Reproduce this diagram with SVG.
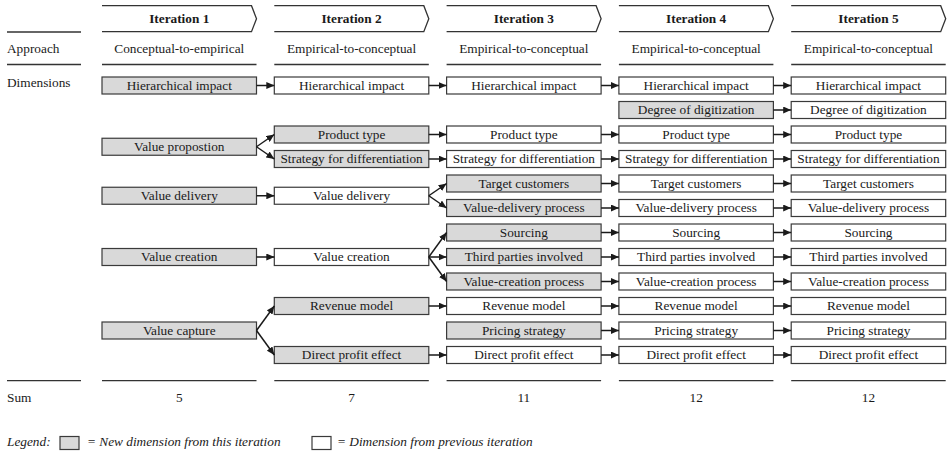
<svg xmlns="http://www.w3.org/2000/svg" width="947" height="453" viewBox="0 0 947 453">
<style>
.box{stroke:#3a3a3a;stroke-width:1.2}
.new{fill:#d9d9d9}
.old{fill:#ffffff}
.t{font-family:"Liberation Serif","Times New Roman",serif;font-size:13.3px;fill:#1a1a1a;text-anchor:middle}
.l{font-family:"Liberation Serif","Times New Roman",serif;font-size:13.3px;fill:#1a1a1a;text-anchor:start}
.it{font-style:italic}
.hd{font-weight:bold}
.rule{stroke:#333;stroke-width:1.3;fill:none}
.chev{stroke:#333;stroke-width:1.3;fill:#fff}
.conn{stroke:#1a1a1a;stroke-width:1.5;fill:none;marker-end:url(#ah)}
</style>
<defs>
<marker id="ah" markerUnits="userSpaceOnUse" markerWidth="8" markerHeight="7" refX="8" refY="3.5" orient="auto">
<path d="M0,0 L8,3.5 L0,7 z" fill="#1a1a1a"/>
</marker>
</defs>
<rect width="947" height="453" fill="#fff"/>

<g id="header">
<path class="chev" d="M102,5.7 H251.5 L256.5,18.7 L251.5,31.7 H102"/>
<path class="chev" d="M274.3,5.7 H423.8 L428.8,18.7 L423.8,31.7 H274.3"/>
<path class="chev" d="M446.6,5.7 H596.1 L601.1,18.7 L596.1,31.7 H446.6"/>
<path class="chev" d="M618.9,5.7 H768.4 L773.4,18.7 L768.4,31.7 H618.9"/>
<path class="chev" d="M791.2,5.7 H940.7 L945.7,18.7 L940.7,31.7 H791.2"/>
<text class="t hd" x="179.25" y="23">Iteration 1</text>
<text class="t hd" x="351.55" y="23">Iteration 2</text>
<text class="t hd" x="523.85" y="23">Iteration 3</text>
<text class="t hd" x="696.15" y="23">Iteration 4</text>
<text class="t hd" x="868.45" y="23">Iteration 5</text>
<line class="rule" x1="7" y1="32" x2="81" y2="32"/>
</g>

<g id="approach">
<text class="l" x="7" y="52.5">Approach</text>
<text class="t" x="179.25" y="52.5">Conceptual-to-empirical</text>
<text class="t" x="351.55" y="52.5">Empirical-to-conceptual</text>
<text class="t" x="523.85" y="52.5">Empirical-to-conceptual</text>
<text class="t" x="696.15" y="52.5">Empirical-to-conceptual</text>
<text class="t" x="868.45" y="52.5">Empirical-to-conceptual</text>
<line class="rule" x1="7" y1="64.5" x2="81" y2="64.5"/>
<line class="rule" x1="102" y1="64.5" x2="256.5" y2="64.5"/>
<line class="rule" x1="274.3" y1="64.5" x2="428.8" y2="64.5"/>
<line class="rule" x1="446.6" y1="64.5" x2="601.1" y2="64.5"/>
<line class="rule" x1="618.9" y1="64.5" x2="773.4" y2="64.5"/>
<line class="rule" x1="791.2" y1="64.5" x2="945.7" y2="64.5"/>
<text class="l" x="7" y="86.5">Dimensions</text>
</g>

<g id="c1-hierarchical-impact"><rect class="box new" x="102" y="77" width="154.5" height="17"/><text class="t" x="179.25" y="89.9">Hierarchical impact</text></g>
<g id="c1-value-proposition"><rect class="box new" x="102" y="138.25" width="154.5" height="17"/><text class="t" x="179.25" y="151.15">Value propostion</text></g>
<g id="c1-value-delivery"><rect class="box new" x="102" y="187.25" width="154.5" height="17"/><text class="t" x="179.25" y="200.15">Value delivery</text></g>
<g id="c1-value-creation"><rect class="box new" x="102" y="248.5" width="154.5" height="17"/><text class="t" x="179.25" y="261.4">Value creation</text></g>
<g id="c1-value-capture"><rect class="box new" x="102" y="322" width="154.5" height="17"/><text class="t" x="179.25" y="334.9">Value capture</text></g>

<g id="c2-hierarchical-impact"><rect class="box old" x="274.3" y="77" width="154.5" height="17"/><text class="t" x="351.55" y="89.9">Hierarchical impact</text></g>
<g id="c2-product-type"><rect class="box new" x="274.3" y="126" width="154.5" height="17"/><text class="t" x="351.55" y="138.9">Product type</text></g>
<g id="c2-strategy"><rect class="box new" x="274.3" y="150.5" width="154.5" height="17"/><text class="t" x="351.55" y="163.4">Strategy for differentiation</text></g>
<g id="c2-value-delivery"><rect class="box old" x="274.3" y="187.25" width="154.5" height="17"/><text class="t" x="351.55" y="200.15">Value delivery</text></g>
<g id="c2-value-creation"><rect class="box old" x="274.3" y="248.5" width="154.5" height="17"/><text class="t" x="351.55" y="261.4">Value creation</text></g>
<g id="c2-revenue-model"><rect class="box new" x="274.3" y="297.5" width="154.5" height="17"/><text class="t" x="351.55" y="310.4">Revenue model</text></g>
<g id="c2-direct-profit"><rect class="box new" x="274.3" y="346.5" width="154.5" height="17"/><text class="t" x="351.55" y="359.4">Direct profit effect</text></g>

<g id="c3-hierarchical-impact"><rect class="box old" x="446.6" y="77" width="154.5" height="17"/><text class="t" x="523.85" y="89.9">Hierarchical impact</text></g>
<g id="c3-product-type"><rect class="box old" x="446.6" y="126" width="154.5" height="17"/><text class="t" x="523.85" y="138.9">Product type</text></g>
<g id="c3-strategy"><rect class="box old" x="446.6" y="150.5" width="154.5" height="17"/><text class="t" x="523.85" y="163.4">Strategy for differentiation</text></g>
<g id="c3-target-customers"><rect class="box new" x="446.6" y="175" width="154.5" height="17"/><text class="t" x="523.85" y="187.9">Target customers</text></g>
<g id="c3-value-delivery-process"><rect class="box new" x="446.6" y="199.5" width="154.5" height="17"/><text class="t" x="523.85" y="212.4">Value-delivery process</text></g>
<g id="c3-sourcing"><rect class="box new" x="446.6" y="224" width="154.5" height="17"/><text class="t" x="523.85" y="236.9">Sourcing</text></g>
<g id="c3-third-parties"><rect class="box new" x="446.6" y="248.5" width="154.5" height="17"/><text class="t" x="523.85" y="261.4">Third parties involved</text></g>
<g id="c3-value-creation-process"><rect class="box new" x="446.6" y="273" width="154.5" height="17"/><text class="t" x="523.85" y="285.9">Value-creation process</text></g>
<g id="c3-revenue-model"><rect class="box old" x="446.6" y="297.5" width="154.5" height="17"/><text class="t" x="523.85" y="310.4">Revenue model</text></g>
<g id="c3-pricing-strategy"><rect class="box new" x="446.6" y="322" width="154.5" height="17"/><text class="t" x="523.85" y="334.9">Pricing strategy</text></g>
<g id="c3-direct-profit"><rect class="box old" x="446.6" y="346.5" width="154.5" height="17"/><text class="t" x="523.85" y="359.4">Direct profit effect</text></g>

<g id="c4-hierarchical-impact"><rect class="box old" x="618.9" y="77" width="154.5" height="17"/><text class="t" x="696.15" y="89.9">Hierarchical impact</text></g>
<g id="c4-digitization"><rect class="box new" x="618.9" y="101.5" width="154.5" height="17"/><text class="t" x="696.15" y="114.4">Degree of digitization</text></g>
<g id="c4-product-type"><rect class="box old" x="618.9" y="126" width="154.5" height="17"/><text class="t" x="696.15" y="138.9">Product type</text></g>
<g id="c4-strategy"><rect class="box old" x="618.9" y="150.5" width="154.5" height="17"/><text class="t" x="696.15" y="163.4">Strategy for differentiation</text></g>
<g id="c4-target-customers"><rect class="box old" x="618.9" y="175" width="154.5" height="17"/><text class="t" x="696.15" y="187.9">Target customers</text></g>
<g id="c4-value-delivery-process"><rect class="box old" x="618.9" y="199.5" width="154.5" height="17"/><text class="t" x="696.15" y="212.4">Value-delivery process</text></g>
<g id="c4-sourcing"><rect class="box old" x="618.9" y="224" width="154.5" height="17"/><text class="t" x="696.15" y="236.9">Sourcing</text></g>
<g id="c4-third-parties"><rect class="box old" x="618.9" y="248.5" width="154.5" height="17"/><text class="t" x="696.15" y="261.4">Third parties involved</text></g>
<g id="c4-value-creation-process"><rect class="box old" x="618.9" y="273" width="154.5" height="17"/><text class="t" x="696.15" y="285.9">Value-creation process</text></g>
<g id="c4-revenue-model"><rect class="box old" x="618.9" y="297.5" width="154.5" height="17"/><text class="t" x="696.15" y="310.4">Revenue model</text></g>
<g id="c4-pricing-strategy"><rect class="box old" x="618.9" y="322" width="154.5" height="17"/><text class="t" x="696.15" y="334.9">Pricing strategy</text></g>
<g id="c4-direct-profit"><rect class="box old" x="618.9" y="346.5" width="154.5" height="17"/><text class="t" x="696.15" y="359.4">Direct profit effect</text></g>

<g id="c5-hierarchical-impact"><rect class="box old" x="791.2" y="77" width="154.5" height="17"/><text class="t" x="868.45" y="89.9">Hierarchical impact</text></g>
<g id="c5-digitization"><rect class="box old" x="791.2" y="101.5" width="154.5" height="17"/><text class="t" x="868.45" y="114.4">Degree of digitization</text></g>
<g id="c5-product-type"><rect class="box old" x="791.2" y="126" width="154.5" height="17"/><text class="t" x="868.45" y="138.9">Product type</text></g>
<g id="c5-strategy"><rect class="box old" x="791.2" y="150.5" width="154.5" height="17"/><text class="t" x="868.45" y="163.4">Strategy for differentiation</text></g>
<g id="c5-target-customers"><rect class="box old" x="791.2" y="175" width="154.5" height="17"/><text class="t" x="868.45" y="187.9">Target customers</text></g>
<g id="c5-value-delivery-process"><rect class="box old" x="791.2" y="199.5" width="154.5" height="17"/><text class="t" x="868.45" y="212.4">Value-delivery process</text></g>
<g id="c5-sourcing"><rect class="box old" x="791.2" y="224" width="154.5" height="17"/><text class="t" x="868.45" y="236.9">Sourcing</text></g>
<g id="c5-third-parties"><rect class="box old" x="791.2" y="248.5" width="154.5" height="17"/><text class="t" x="868.45" y="261.4">Third parties involved</text></g>
<g id="c5-value-creation-process"><rect class="box old" x="791.2" y="273" width="154.5" height="17"/><text class="t" x="868.45" y="285.9">Value-creation process</text></g>
<g id="c5-revenue-model"><rect class="box old" x="791.2" y="297.5" width="154.5" height="17"/><text class="t" x="868.45" y="310.4">Revenue model</text></g>
<g id="c5-pricing-strategy"><rect class="box old" x="791.2" y="322" width="154.5" height="17"/><text class="t" x="868.45" y="334.9">Pricing strategy</text></g>
<g id="c5-direct-profit"><rect class="box old" x="791.2" y="346.5" width="154.5" height="17"/><text class="t" x="868.45" y="359.4">Direct profit effect</text></g>

<g id="connectors">
<line class="conn" x1="256.5" y1="85.5" x2="274.3" y2="85.5"/>
<line class="conn" x1="256.5" y1="146.75" x2="274.3" y2="134.5"/>
<line class="conn" x1="256.5" y1="146.75" x2="274.3" y2="159"/>
<line class="conn" x1="256.5" y1="195.75" x2="274.3" y2="195.75"/>
<line class="conn" x1="256.5" y1="257" x2="274.3" y2="257"/>
<line class="conn" x1="256.5" y1="330.5" x2="274.3" y2="306"/>
<line class="conn" x1="256.5" y1="330.5" x2="274.3" y2="355"/>

<line class="conn" x1="428.8" y1="85.5" x2="446.6" y2="85.5"/>
<line class="conn" x1="428.8" y1="134.5" x2="446.6" y2="134.5"/>
<line class="conn" x1="428.8" y1="159" x2="446.6" y2="159"/>
<line class="conn" x1="428.8" y1="195.75" x2="446.6" y2="183.5"/>
<line class="conn" x1="428.8" y1="195.75" x2="446.6" y2="208"/>
<line class="conn" x1="428.8" y1="257" x2="446.6" y2="232.5"/>
<line class="conn" x1="428.8" y1="257" x2="446.6" y2="257"/>
<line class="conn" x1="428.8" y1="257" x2="446.6" y2="281.5"/>
<line class="conn" x1="428.8" y1="306" x2="446.6" y2="306"/>
<line class="conn" x1="428.8" y1="355" x2="446.6" y2="355"/>

<line class="conn" x1="601.1" y1="85.5" x2="618.9" y2="85.5"/>
<line class="conn" x1="601.1" y1="134.5" x2="618.9" y2="134.5"/>
<line class="conn" x1="601.1" y1="159" x2="618.9" y2="159"/>
<line class="conn" x1="601.1" y1="183.5" x2="618.9" y2="183.5"/>
<line class="conn" x1="601.1" y1="208" x2="618.9" y2="208"/>
<line class="conn" x1="601.1" y1="232.5" x2="618.9" y2="232.5"/>
<line class="conn" x1="601.1" y1="257" x2="618.9" y2="257"/>
<line class="conn" x1="601.1" y1="281.5" x2="618.9" y2="281.5"/>
<line class="conn" x1="601.1" y1="306" x2="618.9" y2="306"/>
<line class="conn" x1="601.1" y1="330.5" x2="618.9" y2="330.5"/>
<line class="conn" x1="601.1" y1="355" x2="618.9" y2="355"/>

<line class="conn" x1="773.4" y1="85.5" x2="791.2" y2="85.5"/>
<line class="conn" x1="773.4" y1="110" x2="791.2" y2="110"/>
<line class="conn" x1="773.4" y1="134.5" x2="791.2" y2="134.5"/>
<line class="conn" x1="773.4" y1="159" x2="791.2" y2="159"/>
<line class="conn" x1="773.4" y1="183.5" x2="791.2" y2="183.5"/>
<line class="conn" x1="773.4" y1="208" x2="791.2" y2="208"/>
<line class="conn" x1="773.4" y1="232.5" x2="791.2" y2="232.5"/>
<line class="conn" x1="773.4" y1="257" x2="791.2" y2="257"/>
<line class="conn" x1="773.4" y1="281.5" x2="791.2" y2="281.5"/>
<line class="conn" x1="773.4" y1="306" x2="791.2" y2="306"/>
<line class="conn" x1="773.4" y1="330.5" x2="791.2" y2="330.5"/>
<line class="conn" x1="773.4" y1="355" x2="791.2" y2="355"/>
</g>

<g id="sum">
<line class="rule" x1="7" y1="380.7" x2="81" y2="380.7"/>
<line class="rule" x1="102" y1="380.7" x2="256.5" y2="380.7"/>
<line class="rule" x1="274.3" y1="380.7" x2="428.8" y2="380.7"/>
<line class="rule" x1="446.6" y1="380.7" x2="601.1" y2="380.7"/>
<line class="rule" x1="618.9" y1="380.7" x2="773.4" y2="380.7"/>
<line class="rule" x1="791.2" y1="380.7" x2="945.7" y2="380.7"/>
<text class="l" x="7" y="401.7">Sum</text>
<text class="t" x="179.25" y="401.7">5</text>
<text class="t" x="351.55" y="401.7">7</text>
<text class="t" x="523.85" y="401.7">11</text>
<text class="t" x="696.15" y="401.7">12</text>
<text class="t" x="868.45" y="401.7">12</text>
</g>

<g id="legend">
<text class="l it" x="7" y="446">Legend:</text>
<rect class="box new" x="60" y="436.5" width="19" height="13"/>
<text class="l it" x="87" y="446">= New dimension from this iteration</text>
<rect class="box old" x="312" y="436.5" width="19" height="13"/>
<text class="l it" x="337" y="446">= Dimension from previous iteration</text>
</g>
</svg>
